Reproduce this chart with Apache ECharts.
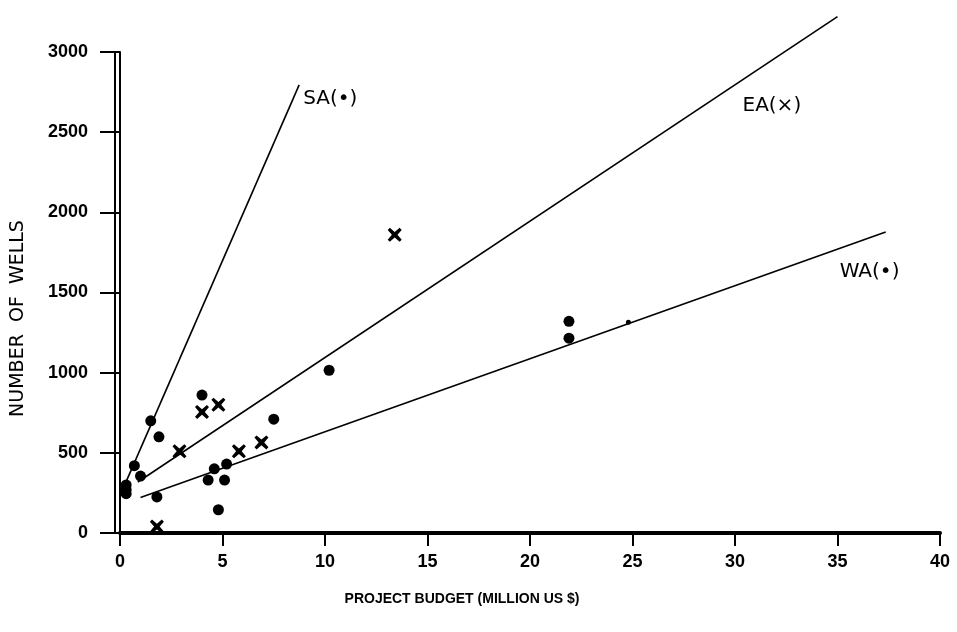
<!DOCTYPE html>
<html>
<head>
<meta charset="utf-8">
<script src="https://cdn.jsdelivr.net/npm/echarts@6/dist/echarts.min.js"></script>
<style>
  html, body { margin: 0; padding: 0; background: #fff; }
  #chart { width: 957px; height: 632px; }
</style>
</head>
<body>
<div id="chart"></div>
<script>
// xAxis ticks
var xTicks = [0, 5, 10, 15, 20, 25, 30, 35, 40]
var yTicks = [0, 500, 1000, 1500, 2000, 2500, 3000]

// dots (SA + WA projects): [budget, wells]
var dotPoints = [
  [0.3, 300], [0.3, 270], [0.3, 245],
  [0.7, 420], [1.0, 355], [1.5, 700], [1.9, 600], [1.8, 225],
  [4.0, 860], [4.3, 330], [4.6, 400], [5.1, 330], [5.2, 430], [4.8, 145],
  [7.5, 710], [10.2, 1015], [21.9, 1320], [21.9, 1215]
]
var smallDots = [[24.8, 1315]]
// crosses (EA projects)
var crossPoints = [
  [1.8, 40], [2.9, 510], [4.0, 755], [4.8, 800], [5.8, 510], [6.9, 565],
  [13.4, 1860], [36.0, 3035]
]

// fitted lines, two ends each
var saLine = [[0.3, 320], [8.74, 2795]]
var eaLine = [[0.87, 318], [35.0, 3221]]
var waLine = [[1.0, 221], [37.35, 1877]]

var tickFont = "'Liberation Sans', Arial, sans-serif"
var crossPath = 'path://M1.5,0 L5,3 L8.5,0 L10,1.5 L7,5 L10,8.5 L8.5,10 L5,7 L1.5,10 L0,8.5 L3,5 L0,1.5 Z'

var chart = echarts.init(document.getElementById('chart'))

function fitLine (data, label, offset) {
  return {
    type: 'line',
    data: data,
    symbol: 'none',
    clip: false,
    silent: true,
    lineStyle: { color: '#000', width: 1.6 },
    endLabel: {
      show: true,
      formatter: label,
      offset: offset,
      distance: 0,
      color: '#000',
      fontSize: 20,
      fontFamily: 'DejaVu Sans',
    },
  }
}

var option = {
  backgroundColor: '#fff',
  animation: false,
  grid: { left: 120, right: 17, top: 52, bottom: 99, outerBoundsMode: 'none', containLabel: false },
  xAxis: {
    type: 'value',
    min: xTicks[0],
    max: xTicks[xTicks.length - 1],
    interval: 5,
    name: 'PROJECT BUDGET (MILLION US $)',
    nameLocation: 'middle',
    nameGap: 59,
    nameTextStyle: {
      color: '#000', fontSize: 14, fontWeight: 'bold', fontFamily: tickFont,
      padding: [0, 136, 0, 0],
    },
    axisLine: { onZero: false, lineStyle: { color: '#000', width: 4 } },
    axisTick: { show: true, inside: false, length: 13, lineStyle: { color: '#000', width: 2 } },
    axisLabel: { color: '#000', fontSize: 18, fontWeight: 'bold', fontFamily: tickFont, margin: 20 },
    splitLine: { show: false },
  },
  yAxis: [
    {
      type: 'value',
      min: yTicks[0],
      max: yTicks[yTicks.length - 1],
      interval: 500,
      name: 'NUMBER  OF  WELLS',
      nameLocation: 'middle',
      nameGap: 92,
      nameTextStyle: {
        color: '#000', fontSize: 19, fontFamily: 'DejaVu Sans',
        padding: [0, 52, 0, 0],
      },
      axisLine: { onZero: false, lineStyle: { color: '#000', width: 2 } },
      axisTick: { show: true, length: 20, lineStyle: { color: '#000', width: 2 } },
      axisLabel: {
        color: '#000', fontSize: 18, fontWeight: 'bold', fontFamily: tickFont, margin: 32,
        formatter: function (v) { return String(v) },
      },
      splitLine: { show: false },
    },
    {
      type: 'value',
      position: 'left',
      offset: 5,
      min: yTicks[0],
      max: yTicks[yTicks.length - 1],
      interval: 500,
      axisLine: { show: true, onZero: false, lineStyle: { color: '#000', width: 2 } },
      axisTick: { show: false },
      axisLabel: { show: false },
      splitLine: { show: false },
    },
  ],
  series: [
    fitLine(saLine, 'SA(•)', [4, 14]),
    fitLine(eaLine, 'EA(×)', [-95, 89]),
    fitLine(waLine, 'WA(•)', [-46, 40]),
    {
      type: 'scatter',
      data: dotPoints,
      symbol: 'circle',
      symbolSize: 11,
      itemStyle: { color: '#000', opacity: 1 },
    },
    {
      type: 'scatter',
      data: smallDots,
      symbol: 'circle',
      symbolSize: 5,
      itemStyle: { color: '#000', opacity: 1 },
    },
    {
      type: 'scatter',
      data: crossPoints,
      symbol: crossPath,
      symbolSize: 14,
      itemStyle: { color: '#000', opacity: 1 },
    },
  ],
}

option && chart.setOption(option)
</script>
</body>
</html>
